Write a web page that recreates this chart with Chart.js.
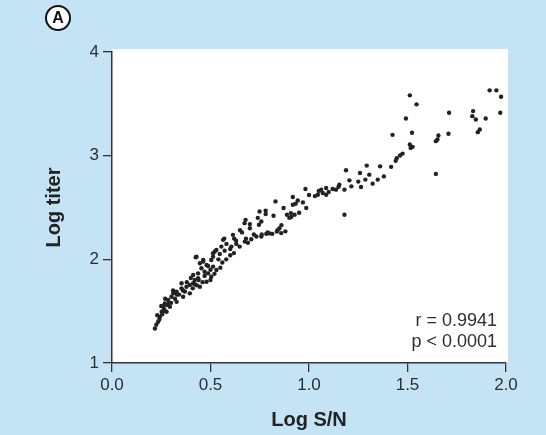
<!DOCTYPE html>
<html>
<head>
<meta charset="utf-8">
<script src="https://cdn.jsdelivr.net/npm/chart.js@4"></script>
<style>
  html, body { margin: 0; padding: 0; background: #c4e4f6; }
  #wrap { width: 546px; height: 435px; }
</style>
</head>
<body>
<div id="wrap"><canvas id="myChart" width="546" height="435"></canvas></div>
<script>
// data
const logSN = [
  1.917, 1.951, 1.975, 1.971, 1.512, 1.546, 1.711, 1.833, 1.829, 1.847, 1.897, 1.867, 1.857, 1.492,
  1.424, 1.523, 1.512, 1.526, 1.516, 1.657, 1.652, 1.644, 1.708, 1.475, 1.462, 1.445, 1.417, 1.644,
  1.361, 1.293, 1.259, 1.188, 1.306, 1.286, 1.349, 1.323, 1.264, 1.205, 1.215, 1.154, 1.180, 1.137,
  1.120, 1.087, 1.062, 1.070, 1.087, 1.045, 0.982, 0.918, 0.943, 0.969, 0.986, 0.918, 0.927, 0.910,
  1.180, 1.100, 1.030,
  0.830, 0.932, 0.871, 0.908, 0.888, 0.749, 0.780, 0.678, 0.758, 0.746, 0.837, 0.859, 0.814, 0.783,
  0.758, 0.733, 0.707, 0.674, 0.631, 0.648, 0.606, 0.581, 0.564, 0.572, 0.547, 0.522, 0.513, 0.463,
  0.425, 0.446, 0.488,
  0.614, 0.673, 0.619, 0.690, 0.800, 0.850, 0.880, 0.700, 0.620, 0.660, 0.820,
  0.218, 0.234, 0.243, 0.252, 0.260, 0.268, 0.285, 0.302, 0.311, 0.328, 0.353, 0.353, 0.378, 0.395,
  0.412, 0.420, 0.437, 0.412, 0.437, 0.454, 0.488, 0.480, 0.463, 0.429, 0.504, 0.513, 0.530, 0.555,
  0.277, 0.294, 0.328, 0.361, 0.395, 0.446, 0.480, 0.504, 0.530, 0.513,
  0.225, 0.240, 0.255, 0.265, 0.280, 0.300, 0.320, 0.340, 0.370, 0.410, 0.430, 0.460, 0.500, 0.520,
  0.550, 0.560, 0.580, 0.600, 0.470, 0.380, 0.400, 0.270, 0.310, 0.230, 0.250,
  0.600, 0.630, 0.680, 0.720, 0.760, 0.790, 0.840, 0.860, 0.900, 0.950, 0.700, 0.650, 0.740, 0.780,
  0.570, 0.540, 0.500, 0.470, 0.440, 0.420, 0.360, 0.330, 0.290, 0.260, 1.000, 1.050, 1.150, 1.250,
  1.380, 1.440
];
const logTiter = [
  3.630, 3.630, 3.569, 3.414, 3.582, 3.495, 3.414, 3.430, 3.381, 3.349, 3.359, 3.253, 3.227, 3.359,
  3.201, 3.221, 3.107, 3.085, 3.075, 3.195, 3.156, 3.140, 3.211, 3.020, 3.001, 2.975, 2.892, 2.824,
  2.897, 2.904, 2.833, 2.859, 2.817, 2.769, 2.769, 2.730, 2.698, 2.762, 2.704, 2.720, 2.672, 2.672,
  2.679, 2.688, 2.672, 2.640, 2.623, 2.623, 2.679, 2.601, 2.568, 2.549, 2.495, 2.527, 2.430, 2.408,
  2.430, 2.650, 2.610,
  2.559, 2.536, 2.495, 2.446, 2.430, 2.462, 2.437, 2.381, 2.365, 2.333, 2.268, 2.253, 2.246, 2.246,
  2.220, 2.220, 2.194, 2.171, 2.149, 2.123, 2.123, 2.149, 2.188, 2.084, 2.052, 2.075, 2.026, 1.994,
  2.020, 1.962, 1.936,
  2.236, 2.349, 2.060, 2.160, 2.250, 2.300, 2.270, 2.300, 2.200, 2.260, 2.420,
  1.333, 1.397, 1.445, 1.494, 1.542, 1.575, 1.607, 1.639, 1.672, 1.687, 1.720, 1.769, 1.736, 1.752,
  1.769, 1.801, 1.817, 1.849, 1.865, 1.914, 1.865, 1.946, 1.978, 2.026, 1.994, 2.059, 2.091, 2.123,
  1.494, 1.542, 1.590, 1.639, 1.672, 1.736, 1.784, 1.833, 1.897, 1.930,
  1.370, 1.420, 1.470, 1.520, 1.560, 1.580, 1.620, 1.660, 1.690, 1.720, 1.750, 1.780, 1.800, 1.860,
  1.920, 1.970, 2.000, 2.040, 1.880, 1.780, 1.820, 1.620, 1.700, 1.460, 1.550,
  2.100, 2.180, 2.200, 2.240, 2.240, 2.260, 2.280, 2.330, 2.400, 2.450, 2.340, 2.280, 2.400, 2.470,
  2.200, 2.000, 1.900, 1.840, 1.800, 1.760, 1.700, 1.660, 1.580, 1.500, 2.620, 2.660, 2.700, 2.750,
  2.800, 2.950
];
const xTicks = [0, 0.5, 1, 1.5, 2];
const yTicks = [1, 2, 3, 4];
const statLines = ['r = 0.9941', 'p < 0.0001'];

const points = logSN.map((x, i) => ({ x: x, y: logTiter[i] }));

const textColor = '#2e2e2e';

// background, panel letter and stats
const decor = {
  id: 'decor',
  beforeDraw(chart) {
    const ctx = chart.ctx;
    const a = chart.chartArea;
    ctx.save();
    ctx.fillStyle = '#c4e4f6';
    ctx.fillRect(0, 0, chart.width, chart.height);
    ctx.fillStyle = '#ffffff';
    ctx.fillRect(a.left, a.top - 3, a.right - a.left + 2, a.bottom - a.top + 3);
    ctx.restore();
  },
  afterDraw(chart) {
    const ctx = chart.ctx;
    ctx.save();
    // circled A
    ctx.beginPath();
    ctx.arc(58, 18, 12, 0, Math.PI * 2);
    ctx.fillStyle = '#ffffff';
    ctx.fill();
    ctx.lineWidth = 2;
    ctx.strokeStyle = '#111';
    ctx.stroke();
    ctx.fillStyle = '#111';
    ctx.font = 'bold 16px "Liberation Sans", Arial, sans-serif';
    ctx.textAlign = 'center';
    ctx.textBaseline = 'middle';
    ctx.fillText('A', 58, 19);
    // next panel circle, cut by the bottom edge
    ctx.beginPath();
    ctx.arc(58, 448, 12, 0, Math.PI * 2);
    ctx.fillStyle = '#ffffff';
    ctx.fill();
    ctx.stroke();
    // stats
    ctx.fillStyle = textColor;
    ctx.font = '18px "Liberation Sans", Arial, sans-serif';
    ctx.textAlign = 'right';
    ctx.textBaseline = 'alphabetic';
    ctx.fillText(statLines[0], 497, 326);
    ctx.fillText(statLines[1], 497, 347);
    ctx.restore();
  }
};

const config = {
  type: 'scatter',
  data: {
    datasets: [{
      data: points,
      backgroundColor: '#222',
      borderWidth: 0,
      pointRadius: 2.2,
      pointHoverRadius: 2.2
    }]
  },
  options: {
    responsive: false,
    animation: false,
    layout: { padding: { top: 52, right: 40, left: 0, bottom: 0 } },
    plugins: { legend: { display: false }, tooltip: { enabled: false } },
    scales: {
      x: {
        type: 'linear',
        min: 0,
        max: 2,
        afterFit(scale) { scale.height = 72; },
        afterBuildTicks(scale) { scale.ticks = xTicks.map(v => ({ value: v })); },
        border: { display: true, color: '#333', width: 1.5 },
        grid: { drawOnChartArea: false, drawTicks: true, tickLength: 9, color: '#333', lineWidth: 1.3 },
        ticks: {
          padding: 3,
          color: textColor,
          font: { family: '"Liberation Sans", Arial, sans-serif', size: 17 },
          callback: v => v.toFixed(1)
        },
        title: {
          display: true,
          text: 'Log S/N',
          color: '#222',
          font: { family: '"Liberation Sans", Arial, sans-serif', size: 20, weight: 'bold' },
          padding: { top: 0, bottom: 3 }
        }
      },
      y: {
        type: 'linear',
        min: 1,
        max: 4,
        afterFit(scale) { scale.width = 112; },
        afterBuildTicks(scale) { scale.ticks = yTicks.map(v => ({ value: v })); },
        border: { display: true, color: '#333', width: 1.5 },
        grid: { drawOnChartArea: false, drawTicks: true, tickLength: 9, color: '#333', lineWidth: 1.3 },
        ticks: {
          padding: 4,
          color: textColor,
          font: { family: '"Liberation Sans", Arial, sans-serif', size: 17 },
          callback: v => String(v)
        },
        title: {
          display: true,
          text: 'Log titer',
          color: '#222',
          font: { family: '"Liberation Sans", Arial, sans-serif', size: 20, weight: 'bold' },
          padding: { top: 42, bottom: 0 }
        }
      }
    }
  },
  plugins: [decor]
};

const myChart = new Chart(document.getElementById('myChart'), config);
</script>
</body>
</html>
